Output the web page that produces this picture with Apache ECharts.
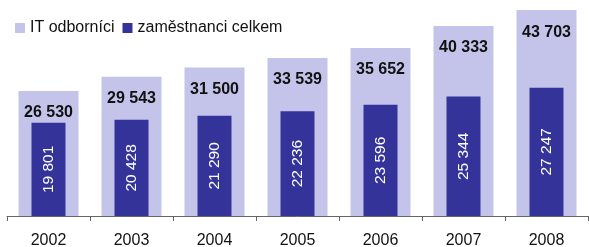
<!DOCTYPE html>
<html><head><meta charset="utf-8">
<script src="https://cdn.jsdelivr.net/npm/echarts@6/dist/echarts.min.js"></script>
<style>html,body{margin:0;padding:0;background:#fff}#c{width:589px;height:247px}</style>
</head><body><div id="c"></div>
<script>
const years = ['2002','2003','2004','2005','2006','2007','2008'];
const itOdbornici = [26530, 29543, 31500, 33539, 35652, 40333, 43703];
const zamestnanci = [19801, 20428, 21290, 22236, 23596, 25344, 27247];
const seriesNames = ['IT odborníci', 'zaměstnanci celkem'];

const fmt = v => String(v).replace(/\B(?=(\d{3})+(?!\d))/g, ' ');
const FONT = '"Liberation Sans", Arial, sans-serif';
const chart = echarts.init(document.getElementById('c'));
chart.setOption({
  animation: false,
  textStyle: { fontFamily: FONT },
  legend: {
    left: 10, top: 15, itemWidth: 10, itemHeight: 10, itemGap: 8,
    icon: 'rect',
    textStyle: { fontSize: 16, color: '#111', fontFamily: FONT },
    data: seriesNames
  },
  grid: { left: 7, right: 1, top: 4, bottom: 31, containLabel: false, outerBoundsMode: 'none' },
  xAxis: [{
    type: 'category', data: years,
    axisLine: { lineStyle: { color: '#666', width: 1 } },
    axisTick: { show: true, length: 5, lineStyle: { color: '#666' } },
    axisLabel: { fontSize: 16, color: '#111', margin: 17, fontFamily: FONT }
  }, {
    type: 'category', data: years, show: false, position: 'bottom'
  }],
  yAxis: { type: 'value', min: 0, max: 45000, show: false, splitLine: { show: false } },
  series: [{
    name: seriesNames[0], type: 'bar', xAxisIndex: 0, data: itOdbornici,
    barWidth: 60, itemStyle: { color: '#c4c4ea' },
    label: { show: true, position: 'insideTop', distance: 14, formatter: p => fmt(p.value),
      fontSize: 16, fontWeight: 'bold', color: '#111', fontFamily: FONT }
  }, {
    name: seriesNames[1], type: 'bar', xAxisIndex: 1, data: zamestnanci,
    barWidth: 34, itemStyle: { color: '#333399' },
    label: { show: true, position: 'inside', rotate: 90, formatter: p => fmt(p.value),
      fontSize: 15.5, fontWeight: 'normal', color: '#fff', fontFamily: FONT }
  }]
});
</script></body></html>
